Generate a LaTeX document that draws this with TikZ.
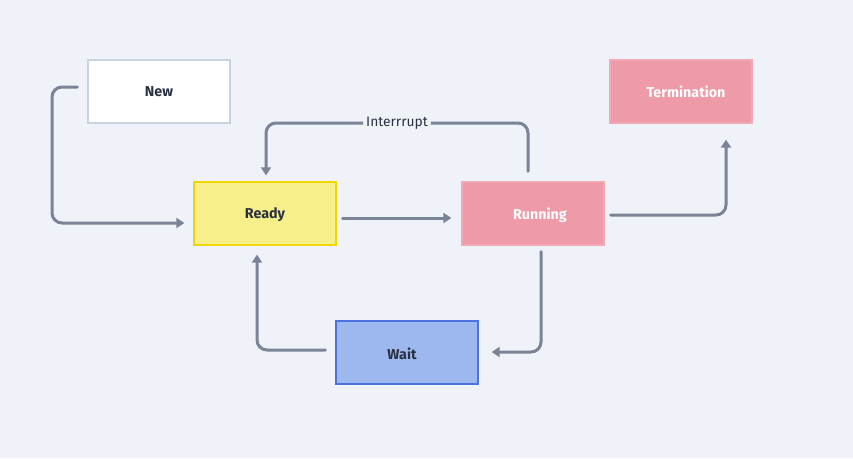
\documentclass[tikz,border=0pt]{standalone}
\usepackage{fontspec}
\setmainfont{Fira Sans}
\usetikzlibrary{arrows.meta}
\definecolor{bg}{HTML}{EFF2F8}
\definecolor{edge}{HTML}{7A8496}
\definecolor{txt}{HTML}{2A3142}
\definecolor{newborder}{HTML}{C8D3E0}
\definecolor{readyfill}{HTML}{F7EF8A}
\definecolor{readyborder}{HTML}{F2D600}
\definecolor{pinkfill}{HTML}{EE9AA8}
\definecolor{pinkborder}{HTML}{F2A9B5}
\definecolor{waitfill}{HTML}{9CB8EE}
\definecolor{waitborder}{HTML}{4A72E0}
\tikzset{
  statebox/.style={draw, line width=1.3pt, minimum width=142pt, minimum height=63pt, inner sep=0pt},
  lbl/.style={font=\fontsize{14.3}{17}\selectfont\bfseries, inner sep=0pt},
  conn/.style={draw=edge, line width=3pt, rounded corners=10pt, line cap=round,
    -{Triangle[length=8pt,width=10pt]}},
}
\begin{document}
\begin{tikzpicture}[x=1pt,y=-1pt]
\fill[bg] (0,0) rectangle (853,458);
\useasboundingbox (0,0) rectangle (853,458);

\node[statebox, draw=newborder, fill=white] (new) at (159,91.5) {};
\node[statebox, draw=readyborder, fill=readyfill] (ready) at (265,213.5) {};
\node[statebox, draw=pinkborder, fill=pinkfill] (run) at (533,213.5) {};
\node[statebox, draw=pinkborder, fill=pinkfill] (term) at (681,91.5) {};
\node[statebox, draw=waitborder, fill=waitfill] (wait) at (407,352.5) {};

\node[lbl, text=txt] (newt) at (159,92) {New};
\node[lbl, text=txt] (readyt) at (265,215) {Ready};
\node[lbl, text=white] (runt) at (540,215) {Running};
\node[lbl, text=white] (termt) at (686,92) {Termination};
\node[lbl, text=txt] (waitt) at (402,354) {Wait};

% New -> Ready
\draw[conn] ([xshift=-10pt,yshift=4.5pt]new.west) -| (52,223) -- ([xshift=-9pt,yshift=-9.5pt]ready.west);
% Ready -> Running
\draw[conn] ([xshift=6pt,yshift=-4.5pt]ready.east) -- ([xshift=-10pt,yshift=-4.5pt]run.west);
% Running -> Ready (Interrupt)
\draw[conn] ([xshift=-5pt,yshift=10pt]run.north) -- (528,123) -- node[pos=0.5, fill=bg, inner sep=3pt, font=\fontsize{13.8}{16}\selectfont, text=txt] (intl) {Interrrupt} (266,123) -- ([xshift=1pt,yshift=6pt]ready.north);
% Running -> Termination
\draw[conn] ([xshift=6pt,yshift=-1.5pt]run.east) -| ([xshift=45pt,yshift=-16pt]term.south);
% Running -> Wait
\draw[conn] ([xshift=8pt,yshift=-6pt]run.south) |- ([xshift=13pt,yshift=0.5pt]wait.east);
% Wait -> Ready
\draw[conn] ([xshift=-10pt,yshift=2.5pt]wait.west) -| ([xshift=-8pt,yshift=-9pt]ready.south);
\end{tikzpicture}
\end{document}
